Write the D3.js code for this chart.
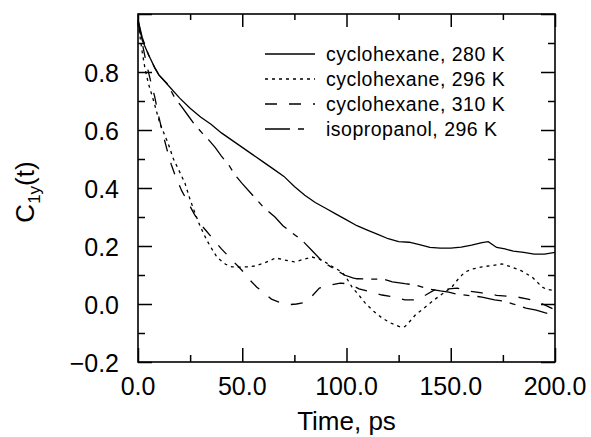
<!DOCTYPE html>
<html>
<head>
<meta charset="utf-8">
<script src="https://cdn.jsdelivr.net/npm/d3@7"></script>
<style>
  body { margin: 0; background: #fff; }
  svg { font-family: "Liberation Sans", Arial, Helvetica, sans-serif; }
</style>
</head>
<body>
<svg id="chart" width="591" height="437"></svg>
<script>
// series: cyclohexane 280 K (solid)
const t280 = [0,2,5,8,10,15,20,25,30,35,40,45,50,55,60,65,70,75,80,85,90,95,100,105,110,115,120,125,130,135,140,145,150,155,160,165,168,172,176,180,185,190,195,200];
const c280 = [0.98,0.91,0.86,0.815,0.79,0.75,0.71,0.675,0.645,0.62,0.59,0.565,0.54,0.515,0.49,0.465,0.44,0.405,0.375,0.35,0.33,0.31,0.29,0.27,0.255,0.24,0.225,0.215,0.213,0.205,0.195,0.193,0.193,0.196,0.203,0.212,0.215,0.195,0.19,0.182,0.178,0.172,0.172,0.178];

// cyclohexane 296 K (dotted)
const t296 = [0,2,3.4,5,7.5,10.6,14.4,17,19,21,22.5,25,27.3,30,33,35,38,42,45,48,52,56,60,64,66,70,75,80,83.5,87,89.7,93,97.8,100,102.6,106,109,113,117,121,125.7,128,131,133,137,142,146,150.6,154,156.8,160,165,170,174.6,179,184,189,193.8,196,198.6,200];
const c296 = [0.97,0.87,0.81,0.76,0.70,0.62,0.555,0.50,0.47,0.44,0.417,0.36,0.314,0.265,0.22,0.195,0.16,0.137,0.128,0.127,0.128,0.131,0.14,0.152,0.159,0.152,0.145,0.155,0.162,0.155,0.145,0.13,0.11,0.09,0.059,0.03,0.003,-0.025,-0.048,-0.065,-0.079,-0.078,-0.055,-0.038,-0.015,0.014,0.035,0.059,0.09,0.11,0.12,0.128,0.133,0.138,0.128,0.114,0.093,0.059,0.05,0.048,0.045];

// cyclohexane 310 K (dashed)
const t310 = [0,2,4,6,8,10,12,14,16,18,21,24,27,30,33,36.5,40,44,48,51,54,57,61,64,67,70,73,76,79,83,87,92,97,100,103,106,112,117,123,128,133,138,142,149,153,158,165,172,178,182,187,192,197,200];
const c310 = [0.97,0.90,0.83,0.77,0.715,0.645,0.585,0.53,0.48,0.44,0.39,0.35,0.31,0.275,0.25,0.22,0.19,0.16,0.13,0.107,0.08,0.058,0.035,0.017,0.008,0.002,-0.002,0.0,0.004,0.024,0.055,0.065,0.072,0.07,0.064,0.052,0.041,0.031,0.024,0.014,0.014,0.031,0.048,0.052,0.055,0.045,0.038,0.03,0.026,0.024,0.017,0.007,-0.01,-0.02];

// isopropanol 296 K (long dash)
const tIso = [0,2,5,8,10,14,17.7,21,24,27,30.7,34,37,40,43.5,46.5,50,55,60,65.7,69.5,73,76.7,80,84,88,91,95,99,103,105,110,117.5,122,128,133,139,145,149,153,158,165,171,175,180,186,191,195,200];
const cIso = [0.98,0.92,0.86,0.815,0.79,0.76,0.71,0.68,0.65,0.62,0.59,0.565,0.54,0.51,0.48,0.445,0.415,0.375,0.335,0.30,0.27,0.25,0.23,0.21,0.18,0.15,0.135,0.117,0.10,0.09,0.087,0.086,0.086,0.076,0.07,0.066,0.052,0.045,0.041,0.034,0.03,0.024,0.014,0.01,0.0,-0.014,-0.021,-0.03,-0.038];

const seriesNames = ["cyclohexane, 280 K", "cyclohexane, 296 K", "cyclohexane, 310 K", "isopropanol, 296 K"];
const xTickLabels = [0, 50, 100, 150, 200];
const yTickLabels = [-0.2, 0.0, 0.2, 0.4, 0.6, 0.8];

const margin = {top: 14, right: 36, bottom: 75, left: 138};
const width = 591 - margin.left - margin.right;
const height = 437 - margin.top - margin.bottom;

const svg = d3.select("#chart")
  .append("g")
  .attr("transform", "translate(" + margin.left + "," + margin.top + ")");

const x = d3.scaleLinear().domain([0, 200]).range([0, width]);
const y = d3.scaleLinear().domain([-0.2, 1.0]).range([height, 0]);

// inward ticks on all four sides
const xMajor = d3.range(0, 201, 50), xMinor = d3.range(25, 200, 50);
const yMajor = d3.range(-0.2, 1.01, 0.2), yMinor = d3.range(-0.1, 1.0, 0.2);

function ticks(axisFn, scale, vals, len, tr) {
  const g = svg.append("g")
    .attr("transform", tr)
    .call(axisFn(scale).tickValues(vals).tickSize(-len).tickFormat(""));
  g.select(".domain").remove();
  g.selectAll("line").attr("stroke", "#000").attr("stroke-width", 1.5);
}
ticks(d3.axisBottom, x, xMajor, 14, "translate(0," + height + ")");
ticks(d3.axisBottom, x, xMinor, 7, "translate(0," + height + ")");
ticks(d3.axisTop, x, xMajor, 13, "translate(0,0)");
ticks(d3.axisTop, x, xMinor, 6, "translate(0,0)");
ticks(d3.axisLeft, y, yMajor, 14, "translate(0,0)");
ticks(d3.axisLeft, y, yMinor, 7, "translate(0,0)");
ticks(d3.axisRight, y, yMajor, 14, "translate(" + width + ",0)");
ticks(d3.axisRight, y, yMinor, 7, "translate(" + width + ",0)");

svg.append("rect")
  .attr("width", width).attr("height", height)
  .attr("fill", "none").attr("stroke", "#000").attr("stroke-width", 1.6);

// tick labels
svg.selectAll(".xl").data(xTickLabels).enter().append("text")
  .attr("x", d => x(d)).attr("y", height + 33)
  .attr("text-anchor", "middle")
  .style("font-size", "25px")
  .text(d => d3.format(".1f")(d));

svg.selectAll(".yl").data(yTickLabels).enter().append("text")
  .attr("x", -19).attr("y", d => y(d) + 10)
  .attr("text-anchor", "end")
  .style("font-size", "25px")
  .text(d => d3.format(".1f")(d).replace("-", "\u2212"));

// axis titles
svg.append("text")
  .attr("x", width / 2).attr("y", height + 68)
  .attr("text-anchor", "middle")
  .style("font-size", "26px")
  .text("Time, ps");

const yt = svg.append("text")
  .attr("transform", "translate(-104," + (height / 2 + 4) + ") rotate(-90)")
  .attr("text-anchor", "middle")
  .style("font-size", "26px");
yt.append("tspan").text("C");
yt.append("tspan").attr("dy", 6).style("font-size", "17px").text("1y");
yt.append("tspan").attr("dy", -6).text("(t)");

// curves
const series = [
  {t: t280, v: c280, dash: null, len: 50},
  {t: t296, v: c296, dash: "3,4", len: 50},
  {t: t310, v: c310, dash: "12,12", len: 50},
  {t: tIso, v: cIso, dash: "25,8,6,8", len: 39}
];

const line = d3.line().x(d => x(d[0])).y(d => y(d[1]));

svg.selectAll(".curve").data(series).enter().append("path")
  .attr("class", "curve")
  .attr("d", d => line(d.t.map((tt, i) => [tt, d.v[i]])))
  .attr("fill", "none")
  .attr("stroke", "#000")
  .attr("stroke-width", 1.3)
  .attr("stroke-dasharray", d => d.dash);

// legend
const lg = svg.append("g").attr("transform", "translate(127,40)");
const rows = lg.selectAll("g").data(series).enter().append("g")
  .attr("transform", (d, i) => "translate(0," + (i * 25) + ")");
rows.append("line")
  .attr("x1", 0).attr("x2", d => d.len)
  .attr("stroke", "#000").attr("stroke-width", 1.3)
  .attr("stroke-dasharray", d => d.dash);
rows.append("text")
  .attr("x", 61).attr("y", 6.5)
  .style("font-size", "19.5px")
  .style("letter-spacing", "0.5px")
  .text((d, i) => seriesNames[i]);
</script>
</body>
</html>
